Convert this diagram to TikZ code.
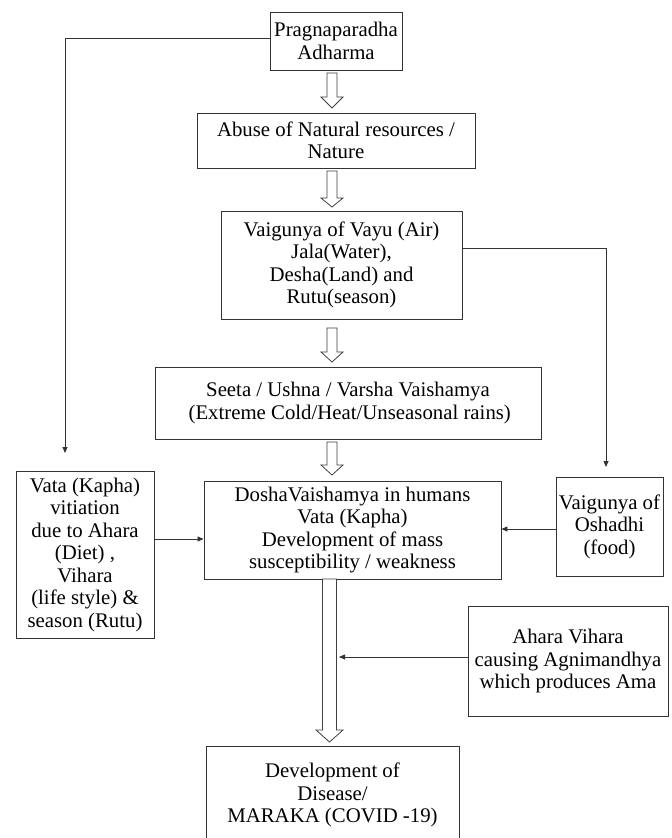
\documentclass[tikz,border=0pt]{standalone}
\usepackage{fontspec}
\setmainfont{Liberation Serif}
\usetikzlibrary{arrows.meta}
\newcommand{\blkarrow}[6]{% x, ytop, ytip, yhead, shaft half, head half
  \draw[blk] (#1-#5,#2) -- (#1+#5,#2) -- (#1+#5,#4) -- (#1+#6,#4) -- (#1,#3) -- (#1-#6,#4) -- (#1-#5,#4) -- cycle;}
\begin{document}
\begin{tikzpicture}[x=1pt,y=-1pt,
  box/.style={draw=black!80, line width=0.9pt, inner sep=0pt, align=center, font=\fontsize{20.8}{22.5}\selectfont},
  conn/.style={draw=black!80, line width=0.8pt, -{Triangle[length=6pt,width=5pt]}},
  blk/.style={draw=black!75, line width=0.8pt, fill=white, line join=miter}]
\useasboundingbox (0,0) rectangle (672,838);
\fill[white] (0,0) rectangle (672,838);

\node[box, minimum width=132pt, minimum height=58pt] (P) at (336,41) {Pragnaparadha\\Adharma};
\node[box, minimum width=278pt, minimum height=55pt] (A) at (336,140.5) {Abuse of Natural resources /\\Nature};
\node[box, minimum width=241pt, minimum height=108pt] (V) at (341.5,265) {Vaigunya of Vayu (Air)\\Jala(Water),\\Desha(Land) and\\Rutu(season)};
\node[box, minimum width=386pt, minimum height=72pt] (S) at (348,403) {Seeta / Ushna / Varsha Vaishamya\\\,(Extreme Cold/Heat/Unseasonal rains)};
\node[box, minimum width=138pt, minimum height=167pt] (L) at (85,554.5) {Vata (Kapha)\\vitiation\\due to Ahara\\(Diet) ,\\Vihara\\(life style) \&\\season (Rutu)};
\node[box, minimum width=297pt, minimum height=98pt] (D) at (352.5,530) {DoshaVaishamya in humans\\Vata (Kapha)\\Development of mass\\susceptibility / weakness};
\node[box, minimum width=107pt, minimum height=99pt] (O) at (609.5,526.5) {Vaigunya of\\Oshadhi\\(food)};
\node[box, minimum width=200pt, minimum height=110pt] (H) at (568,661) {Ahara Vihara\\causing Agnimandhya\\which produces Ama};
\node[box, minimum width=253pt, minimum height=98pt] (Dv) at (332.5,795) {Development of\\Disease/\\MARAKA (COVID -19)};

% block arrows
\blkarrow{332}{73}{108}{97}{5}{11}
\blkarrow{332}{171}{207}{198}{5}{11}
\blkarrow{332}{328}{362}{352}{5}{11}
\blkarrow{332}{442}{475}{465}{5}{11}
\blkarrow{329.5}{579}{742}{730}{7}{13.5}

% connectors
\coordinate (lend) at (65,453);
\coordinate (rend) at (606,467);
\coordinate (y539) at (0,539);
\coordinate (y529) at (0,529);
\coordinate (bigR) at (339,657);
\draw[conn] ([yshift=3pt]P.west) -| (lend);
\draw[conn] ([yshift=17pt]V.east) -| (rend);
\draw[conn] (L.east |- y539) -- (D.west |- y539);
\draw[conn] (O.west |- y529) -- (D.east |- y529);
\draw[conn] (H.west |- bigR) -- (bigR);
\end{tikzpicture}
\end{document}
